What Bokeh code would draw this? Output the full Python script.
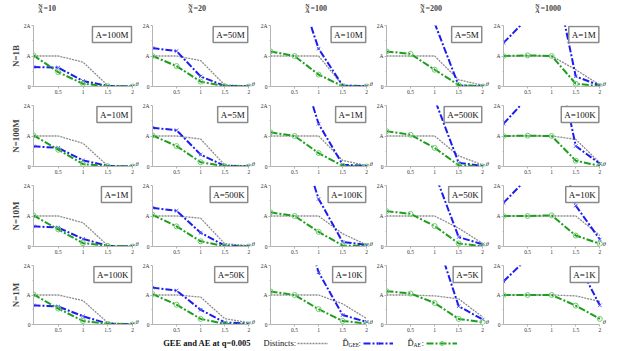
from bokeh.plotting import figure
from bokeh.layouts import gridplot, column
from bokeh.models import Range1d, FixedTicker, Label, Legend, LegendItem
from bokeh.embed import file_html
from bokeh.resources import INLINE

theta = [0, 0.5, 1, 1.5, 2]
ratio_labels = ["10", "20", "100", "200", "1000"]
row_labels = ["N=1B", "N=100M", "N=10M", "N=1M"]

a_labels_1B = ["A=100M", "A=50M", "A=10M", "A=5M", "A=1M"]
a_labels_100M = ["A=10M", "A=5M", "A=1M", "A=500K", "A=100K"]
a_labels_10M = ["A=1M", "A=500K", "A=100K", "A=50K", "A=10K"]
a_labels_1M = ["A=100K", "A=50K", "A=10K", "A=5K", "A=1K"]

# values in units of A, one list per column (N/A = 10, 20, 100, 200, 1000)
distincts_1B = [[1, 1, 0.8, 0.03, 0.01], [1, 1, 0.85, 0.05, 0.02], [1, 1, 1, 0.04, 0.02],
                [1, 1, 1, 0.22, 0.04], [1, 1, 1, 0.55, 0.05]]
gee_1B = [[0.64, 0.62, 0.18, 0.02, 0.0], [1.26, 1.16, 0.33, 0.02, 0.0], [6.0, 3.6, 1.24, 0.03, 0.01],
          [6.5, 4.0, 2.08, 0.03, 0.01], [1.43, 2.24, 4.1, 0.33, 0.03]]
ae_1B = [[1.02, 0.47, 0.09, 0.01, 0.0], [1.0, 0.67, 0.16, 0.01, 0.0], [1.15, 1.0, 0.39, 0.01, 0.0],
         [1.15, 1.07, 0.55, 0.05, 0.0], [1.0, 1.02, 1.0, 0.09, 0.01]]

distincts_100M = [[1, 1, 0.76, 0.02, 0.01], [1, 1, 0.9, 0.05, 0.02], [1, 1, 1, 0.2, 0.03],
                  [1, 1, 1, 0.35, 0.05], [1, 1, 1, 0.89, 0.12]]
gee_100M = [[0.66, 0.61, 0.2, 0.02, 0.0], [1.27, 1.19, 0.39, 0.02, 0.0], [6.0, 3.9, 1.4, 0.06, 0.02],
            [6.5, 4.0, 2.21, 0.12, 0.02], [1.4, 2.26, 4.4, 0.67, 0.09]]
ae_100M = [[1.02, 0.55, 0.08, 0.01, 0.0], [1.02, 0.67, 0.14, 0.01, 0.0], [1.12, 1.0, 0.44, 0.02, 0.0],
           [1.16, 1.04, 0.61, 0.04, 0.0], [1.0, 1.01, 1.0, 0.19, 0.02]]

distincts_10M = [[1, 1, 0.78, 0.03, 0.02], [1, 1, 0.93, 0.09, 0.03], [1, 1, 1, 0.42, 0.05],
                 [1, 1, 1, 0.6, 0.1], [1, 1, 1, 1.0, 0.36]]
gee_10M = [[0.66, 0.62, 0.25, 0.02, 0.0], [1.27, 1.17, 0.45, 0.03, 0.01], [6.0, 4.0, 1.56, 0.15, 0.05],
           [7.0, 4.5, 2.4, 0.31, 0.07], [1.43, 2.25, 4.3, 1.34, 0.23]]
ae_10M = [[1.02, 0.56, 0.11, 0.02, 0.0], [1.04, 0.66, 0.17, 0.01, 0.0], [1.12, 1.0, 0.48, 0.03, 0.02],
          [1.16, 1.07, 0.67, 0.1, 0.01], [1.0, 1.0, 1.02, 0.36, 0.09]]

distincts_1M = [[1, 1, 0.81, 0.06, 0.02], [1, 1, 0.93, 0.2, 0.06], [1, 1, 1, 0.7, 0.2],
                [1, 1, 0.97, 0.87, 0.25], [1, 1, 1, 0.97, 0.78]]
gee_1M = [[0.65, 0.61, 0.28, 0.03, 0.0], [1.25, 1.15, 0.5, 0.07, 0.03], [6.0, 4.5, 1.77, 0.32, 0.09],
          [7.0, 5.0, 3.1, 0.62, 0.17], [1.46, 2.25, 4.0, 2.22, 0.65]]
ae_1M = [[1.02, 0.54, 0.12, 0.02, 0.0], [1.03, 0.67, 0.19, 0.02, 0.0], [1.12, 1.0, 0.52, 0.12, 0.03],
         [1.13, 1.05, 0.73, 0.19, 0.08], [1.0, 1.0, 1.0, 0.64, 0.19]]

rows = [
    (a_labels_1B, distincts_1B, gee_1B, ae_1B),
    (a_labels_100M, distincts_100M, gee_100M, ae_100M),
    (a_labels_10M, distincts_10M, gee_10M, ae_10M),
    (a_labels_1M, distincts_1M, gee_1M, ae_1M),
]

SERIF = "Liberation Serif"
GRAY = "#8c8c8c"
BLUE = "#1c1cf0"
GREEN = "#1e9e1e"
AXIS = "#b4b4b4"

# layout (pixels)
col_bounds = [0, 139, 257, 373, 490, 612]
col_frame_left = [33, 149, 267, 383, 500]
DATA_W = 99                      # pixels spanned by theta 0..2
row_heights = [79, 80, 80, 75]
row_top = [5, 6, 6, 6]
row_bottom = [13, 13, 13, 8]
HEAD_H = 20
LEG_H = 16
TOTAL_W = col_bounds[-1]
head_x = [40, 190, 307, 422, 537]

# header strip
hf = figure(width=TOTAL_W, height=HEAD_H, x_range=Range1d(0, TOTAL_W), y_range=Range1d(0, HEAD_H),
            x_axis_type=None, y_axis_type=None, min_border=0, output_backend="svg",
            toolbar_location=None)
hf.outline_line_color = None
hf.grid.visible = False
for c in range(5):
    nx = head_x[c]
    for txt_, yy in (("N", 15.0), ("\u2013", 12.2), ("A", 9.6)):
        hf.add_layout(Label(x=nx, y=yy, text=txt_, text_align="center", text_baseline="middle",
                            text_font=SERIF, text_font_style="bold", text_font_size="6px"))
    hf.add_layout(Label(x=nx + 3, y=12.2, text="=" + ratio_labels[c], text_align="left",
                        text_baseline="middle", text_font=SERIF, text_font_style="bold",
                        text_font_size="8px"))

grid = []
for r, (alabels, dist, gee, ae) in enumerate(rows):
    line = []
    for c in range(5):
        w = col_bounds[c + 1] - col_bounds[c]
        left = col_frame_left[c] - col_bounds[c]
        frame_w = w - left
        x_end = 2.0 * frame_w / DATA_W
        h = row_heights[r]
        p = figure(width=w, height=h, x_range=Range1d(0, x_end), y_range=Range1d(0, 2),
                   min_border_left=left, min_border_right=0,
                   min_border_top=row_top[r], min_border_bottom=row_bottom[r],
                   output_backend="svg", toolbar_location=None)
        p.outline_line_color = None
        p.grid.visible = False
        p.background_fill_color = "white"
        p.border_fill_color = "white"
        for ax in (p.xaxis[0], p.yaxis[0]):
            ax.axis_line_color = AXIS
            ax.major_tick_line_color = AXIS
            ax.minor_tick_line_color = AXIS
            ax.major_tick_out = 2
            ax.major_tick_in = 0
            ax.minor_tick_out = 1
            ax.minor_tick_in = 0
            ax.major_label_standoff = 1
            ax.major_label_text_font = SERIF
            ax.major_label_text_font_size = "5.5px"
            ax.major_label_text_color = "#333333"
        p.xaxis.bounds = (0, 2)
        p.xaxis.ticker = FixedTicker(ticks=[0.5, 1, 1.5, 2], minor_ticks=[])
        p.xaxis.major_label_overrides = {0.5: "0.5", 1: "1", 1.5: "1.5", 2: "2"}
        p.yaxis.ticker = FixedTicker(ticks=[0, 1, 2], minor_ticks=[0.5, 1.5])
        p.yaxis.major_label_overrides = {0: "0", 1: "A", 2: "2A"}
        if c == 0:
            p.yaxis.axis_label = row_labels[r]
            p.yaxis.axis_label_text_font = SERIF
            p.yaxis.axis_label_text_font_style = "bold"
            p.yaxis.axis_label_text_font_size = "9px"
            p.yaxis.axis_label_standoff = 0

        p.line(theta, dist[c], line_color=GRAY, line_width=1.3, line_dash="2 1")
        p.line(theta, gee[c], line_color=BLUE, line_width=2, line_dash="7 2 2 2")
        p.scatter(theta, gee[c], marker="x", size=5, line_color="#5a5aff", line_width=1)
        p.line(theta, ae[c], line_color=GREEN, line_width=2, line_dash="7 2 2 2")
        p.scatter(theta, ae[c], marker="circle", size=5, fill_color=None,
                  line_color="#6ccc6c", line_width=1)

        p.add_layout(Label(x=2, y=2, x_offset=-1, y_offset=-1, text=alabels[c],
                           text_align="right", text_baseline="top", text_font=SERIF,
                           text_font_size="9px", text_color="#111111",
                           border_line_color="#8a8a8a", border_line_width=1.5,
                           background_fill_color="white", padding=3))
        p.add_layout(Label(x=2, y=0, x_offset=3, y_offset=0, text="θ", text_font=SERIF,
                           text_font_style="italic", text_font_size="6.5px",
                           text_baseline="bottom", text_color="#333333"))
        line.append(p)
    grid.append(line)

gp = gridplot(grid, toolbar_location=None)

# bottom legend strip
lf = figure(width=TOTAL_W, height=LEG_H, x_range=Range1d(0, TOTAL_W), y_range=Range1d(0, LEG_H),
            x_axis_type=None, y_axis_type=None, min_border=0, output_backend="svg",
            toolbar_location=None)
lf.outline_line_color = None
lf.grid.visible = False

# legend-only renderers (hidden; they only supply the legend swatches)
r_dist = lf.line(theta, distincts_1B[0], line_color=GRAY, line_width=1.3, line_dash="2 1", visible=False)
r_gee_l = lf.line(theta, gee_1B[0], line_color=BLUE, line_width=2, line_dash="7 2 2 2", visible=False)
r_gee_m = lf.scatter(theta, gee_1B[0], marker="x", size=5, line_color="#5a5aff", line_width=1, visible=False)
r_ae_l = lf.line(theta, ae_1B[0], line_color=GREEN, line_width=2, line_dash="7 2 2 2", visible=False)
r_ae_m = lf.scatter(theta, ae_1B[0], marker="circle", size=5, fill_color=None, line_color="#6ccc6c",
                    line_width=1, visible=False)

TY = 7.3


def mk_legend(rends, x0, width):
    return Legend(items=[LegendItem(label=" ", renderers=rends)], location=(x0, TY - 5),
                  glyph_width=width, glyph_height=10, padding=0, margin=0, spacing=0,
                  label_standoff=0, label_text_font_size="1px", label_height=1, label_width=1,
                  border_line_alpha=0, background_fill_alpha=0, inactive_fill_alpha=0)


lf.add_layout(mk_legend([r_dist], 297, 31))
lf.add_layout(mk_legend([r_gee_l, r_gee_m], 363, 30))
lf.add_layout(mk_legend([r_ae_l, r_ae_m], 426, 31))


def txt(x, s, size="8.5px", style="normal", yo=0, align="left"):
    lf.add_layout(Label(x=x, y=TY, y_offset=yo, text=s, text_font=SERIF, text_font_size=size,
                        text_font_style=style, text_baseline="middle", text_align=align,
                        text_color="#111111"))


txt(206.5, "GEE and AE at q=0.005", size="8.5px", style="bold", align="center")
txt(263, "Distincts:")
txt(342, "D\u0302")
txt(348, "GEE", size="5.5px", yo=-2)
txt(358, ":")
txt(407, "D\u0302")
txt(413, "AE", size="5.5px", yo=-2)
txt(421, ":")

layout = column(hf, gp, lf)
open("out.html", "w").write(file_html(layout, INLINE))
